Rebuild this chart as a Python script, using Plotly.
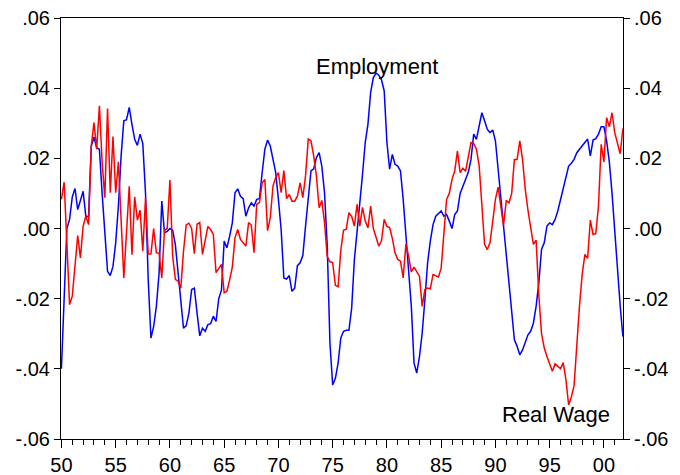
import pandas as pd
import plotly.graph_objects as go

# Quarterly observations 1950Q1 .. 2001Q4
periods = pd.period_range("1950Q1", periods=208, freq="Q")
dates = [p.year + (p.quarter - 1) / 4 for p in periods]

# Cyclical components, in percent
employment_pct = [
    -4.0, -2.0, 0.0, 0.26, 0.9, 1.14, 0.54, 0.8, 1.06, 0.34,
    0.34, 2.35, 2.6, 2.3, 2.26, 1.0, -0.2, -1.22, -1.34, -1.08,
    -0.41, 0.64, 2.07, 3.07, 3.1, 3.45, 2.97, 2.54, 2.37, 2.69,
    2.42, 1.0, -1.46, -3.12, -2.79, -2.22, -1.27, 0.78, -0.12, -0.08,
    0.0, -0.05, -0.46, -1.3, -2.03, -2.84, -2.77, -2.41, -1.74, -1.7,
    -2.41, -3.06, -2.84, -2.93, -2.74, -2.71, -2.5, -2.65, -2.0, -1.75,
    -0.36, -0.55, -0.22, 0.16, 1.02, 1.13, 0.92, 0.85, 0.35, 0.59,
    0.73, 0.64, 0.83, 0.85, 1.59, 2.26, 2.52, 2.35, 1.97, 1.59,
    0.83, -0.03, -1.41, -1.44, -1.34, -1.79, -1.7, -1.06, -0.98, -0.77,
    0.07, 0.83, 1.64, 1.7, 2.02, 2.16, 1.78, 1.02, -0.5, -3.27,
    -4.46, -4.27, -3.84, -3.12, -2.93, -2.9, -2.9, -2.27, -0.89, -0.08,
    0.64, 1.54, 2.45, 2.97, 3.88, 4.3, 4.43, 4.37, 4.24, 3.92,
    2.45, 1.69, 2.11, 1.83, 1.78, 1.64, 0.83, -0.22, -1.27, -2.22,
    -3.84, -4.12, -3.65, -2.98, -2.03, -0.98, -0.36, 0.11, 0.35, 0.43,
    0.5, 0.35, 0.4, 0.21, 0.0, 0.4, 0.5, 1.0, 1.2, 1.35,
    1.6, 1.97, 2.69, 2.54, 2.92, 3.3, 3.07, 2.83, 2.73, 2.81,
    2.5, 1.69, 0.92, 0.02, -0.7, -1.41, -2.22, -3.17, -3.36, -3.6,
    -3.46, -3.27, -3.03, -2.93, -2.7, -2.22, -1.55, -0.6, -0.41, 0.07,
    0.16, 0.11, 0.26, 0.5, 0.83, 1.2, 1.5, 1.78, 1.86, 1.97,
    2.16, 2.25, 2.37, 2.45, 2.55, 2.07, 2.52, 2.56, 2.69, 2.9,
    2.9, 2.5, 1.9, 1.0, -0.1, -1.2, -2.2, -3.08,
]

real_wage_pct = [
    0.83, 1.32, -0.4, -2.17, -1.93, -1.08, -0.2, -0.84, 0.07, 0.35,
    0.11, 2.35, 3.02, 2.26, 3.5, 1.9, 0.88, 3.42, 1.02, 2.62,
    1.02, 1.9, 0.3, -1.41, -0.1, 1.2, -0.75, 0.9, 0.24, 0.52,
    -0.65, 0.87, -0.73, -0.73, 0.0, -0.69, -0.7, -1.41, -0.05, 0.0,
    1.38, -0.78, -1.45, -1.5, -1.7, -0.65, 0.1, 0.15, 0.0, -0.72,
    0.12, 0.17, -0.74, -0.31, 0.06, -0.03, -0.17, -1.26, -1.12, -1.02,
    -1.83, -1.79, -1.47, -1.1, -0.26, -0.03, -0.31, -0.4, -0.5, 0.17,
    0.1, -0.69, 0.69, 0.74, 1.3, 1.4, -0.06, 0.31, 1.21, 1.45,
    1.59, 1.02, 1.65, 0.85, 0.97, 0.78, 0.78, 0.92, 1.3, 0.88,
    1.5, 2.55, 2.5, 2.07, 1.5, 0.59, 0.8, 0.17, -0.8, -0.95,
    -0.97, -1.62, -1.66, -0.62, -0.05, -0.02, 0.45, 0.35, 0.07, 0.69,
    0.07, 0.6, 0.21, 0.02, 0.64, 0.0, -0.22, -0.5, -0.35, 0.26,
    0.06, 0.03, -0.28, -0.7, -0.88, -0.93, -1.41, -0.44, -0.79, -1.24,
    -1.1, -1.24, -1.36, -2.22, -1.74, -1.7, -1.72, -1.31, -1.35, -1.38,
    -1.13, -0.1, 0.83, 1.0, 1.4, 1.64, 2.21, 1.59, 1.72, 1.63,
    2.07, 2.45, 2.42, 2.26, 1.8, 0.54, -0.45, -0.6, -0.41, 0.2,
    0.83, 1.18, 0.7, 0.09, 0.8, 0.73, 1.0, 1.97, 1.97, 2.5,
    1.97, 1.12, 0.52, 0.0, -0.45, -0.33, -1.9, -3.0, -3.4, -3.65,
    -3.85, -4.07, -3.86, -3.94, -4.0, -3.82, -4.31, -5.03, -4.8, -4.48,
    -3.3, -2.2, -1.3, -0.74, -0.85, 0.24, -0.17, -0.15, 0.64, 2.4,
    1.9, 3.16, 2.9, 3.3, 2.73, 2.45, 2.13, 2.85,
]

employment = [v / 100 for v in employment_pct]
real_wage = [v / 100 for v in real_wage_pct]

y_tickvals = [0.06, 0.04, 0.02, 0.0, -0.02, -0.04, -0.06]
y_ticktext = [".06", ".04", ".02", ".00", "-.02", "-.04", "-.06"]
x_tickvals = [1950, 1955, 1960, 1965, 1970, 1975, 1980, 1985, 1990, 1995, 2000]
x_ticktext = ["50", "55", "60", "65", "70", "75", "80", "85", "90", "95", "00"]

FONT = "Liberation Sans, Arial, sans-serif"

fig = go.Figure()
fig.add_trace(go.Scatter(x=dates, y=employment, mode="lines",
                         line=dict(color="#0000FF", width=1.5),
                         name="Employment", showlegend=False))
fig.add_trace(go.Scatter(x=dates, y=real_wage, mode="lines",
                         line=dict(color="#FF0000", width=1.5),
                         name="Real Wage", showlegend=False, yaxis="y2"))

yax = dict(range=[-0.06, 0.06], tickvals=y_tickvals, ticktext=y_ticktext,
           showgrid=False, zeroline=False, showline=True, linecolor="black",
           linewidth=1, ticks="outside", ticklen=6, tickcolor="black",
           automargin=False,
           tickfont=dict(family=FONT, size=20, color="black"))

fig.update_layout(
    width=680, height=475,
    margin=dict(l=61, r=57, t=18, b=36, autoexpand=False),
    paper_bgcolor="white", plot_bgcolor="white",
    xaxis=dict(range=[1949.96, 2001.76], tickvals=x_tickvals, ticktext=x_ticktext,
               showgrid=False, zeroline=False, showline=True, linecolor="black",
               linewidth=1, mirror=True, ticks="outside", ticklen=8,
               tickcolor="black", automargin=False,
               minor=dict(dtick=1, tick0=1950, ticks="outside", ticklen=5,
                          tickcolor="black", showgrid=False),
               tickfont=dict(family=FONT, size=20, color="black")),
    yaxis=dict(**yax, side="left", mirror=False),
    yaxis2=dict(**yax, side="right", overlaying="y"),
    annotations=[
        dict(x=1979.1, y=0.0463, xref="x", yref="y", text="Employment",
             showarrow=False, font=dict(family=FONT, size=22, color="black"),
             xanchor="center", yanchor="middle"),
        dict(x=1995.6, y=-0.0529, xref="x", yref="y", text="Real Wage",
             showarrow=False, font=dict(family=FONT, size=22, color="black"),
             xanchor="center", yanchor="middle"),
    ],
)

fig.write_html("out.html",
               config={"displayModeBar": False},
               post_script="document.body.style.margin='0';"
                           "document.body.style.overflow='hidden';")
